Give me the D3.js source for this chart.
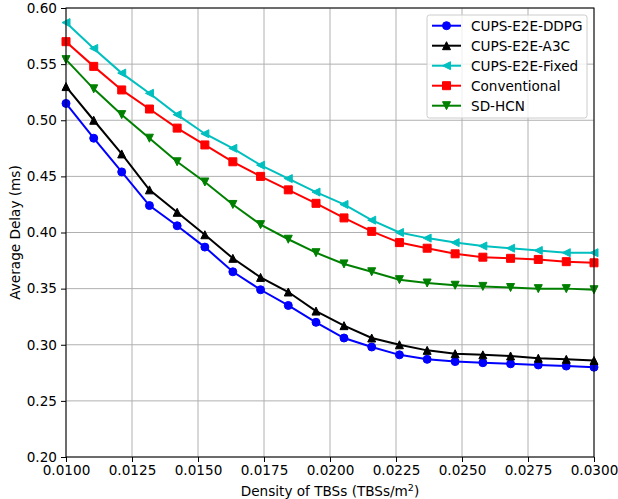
<!DOCTYPE html>
<html><head><meta charset="utf-8">
<script src="https://cdn.jsdelivr.net/npm/d3@7"></script>
<style>body{margin:0;background:#fff;} text{font-family:"DejaVu Sans",sans-serif;}</style>
</head><body>
<svg id="c" width="618" height="499"></svg>
<script>
const density = [0.0100,0.01105,0.01211,0.01316,0.01421,0.01526,0.01632,0.01737,0.01842,0.01947,0.02053,0.02158,0.02263,0.02368,0.02474,0.02579,0.02684,0.02789,0.02895,0.0300];
const ddpg  = [0.515,0.484,0.454,0.424,0.406,0.387,0.365,0.349,0.335,0.320,0.306,0.298,0.291,0.287,0.285,0.284,0.283,0.282,0.281,0.280];
const a3c   = [0.530,0.500,0.470,0.438,0.418,0.398,0.377,0.360,0.347,0.330,0.317,0.306,0.300,0.295,0.292,0.291,0.290,0.288,0.287,0.286];
const fixed = [0.587,0.564,0.542,0.524,0.505,0.488,0.475,0.460,0.448,0.436,0.425,0.411,0.400,0.395,0.391,0.388,0.386,0.384,0.382,0.382];
const conv  = [0.570,0.548,0.527,0.510,0.493,0.478,0.463,0.450,0.438,0.426,0.413,0.401,0.391,0.386,0.381,0.378,0.377,0.376,0.374,0.373];
const sdhcn = [0.554,0.528,0.505,0.484,0.463,0.445,0.425,0.407,0.394,0.382,0.372,0.365,0.358,0.355,0.353,0.352,0.351,0.350,0.350,0.349];
const seriesNames = ["CUPS-E2E-DDPG","CUPS-E2E-A3C","CUPS-E2E-Fixed","Conventional","SD-HCN"];
const xTicks = [0.0100,0.0125,0.0150,0.0175,0.0200,0.0225,0.0250,0.0275,0.0300];
const yTicks = [0.20,0.25,0.30,0.35,0.40,0.45,0.50,0.55,0.60];

const series = [
  {name:seriesNames[0], values:ddpg,  color:"#0000ff", marker:"circle"},
  {name:seriesNames[1], values:a3c,   color:"#000000", marker:"up"},
  {name:seriesNames[2], values:fixed, color:"#00bfbf", marker:"left"},
  {name:seriesNames[3], values:conv,  color:"#ff0000", marker:"square"},
  {name:seriesNames[4], values:sdhcn, color:"#008000", marker:"down"}
];

const FS = 13.6;
const L=66, R=594, T=8, B=457;
const svg = d3.select("#c");
const x = d3.scaleLinear().domain([0.01,0.03]).range([L,R]);
const y = d3.scaleLinear().domain([0.2,0.6]).range([B,T]);

// grid
const g = svg.append("g");
g.selectAll(".vx").data(xTicks).join("line")
  .attr("x1",d=>x(d)).attr("x2",d=>x(d)).attr("y1",T).attr("y2",B)
  .attr("stroke","#b0b0b0").attr("stroke-width",1);
g.selectAll(".hy").data(yTicks).join("line")
  .attr("y1",d=>y(d)).attr("y2",d=>y(d)).attr("x1",L).attr("x2",R)
  .attr("stroke","#b0b0b0").attr("stroke-width",1);

const S=8;
function markerPath(type){
  const h=S/2;
  if(type==="up") return `M0,${-h}L${-h},${h}L${h},${h}Z`;
  if(type==="down") return `M0,${h}L${-h},${-h}L${h},${-h}Z`;
  if(type==="left") return `M${-h},0L${h},${-h}L${h},${h}Z`;
  if(type==="square") return `M${-h},${-h}H${h}V${h}H${-h}Z`;
  return d3.symbol(d3.symbolCircle, Math.PI*h*h)();
}

const plot = svg.append("g");
const line = d3.line().x((d,i)=>x(density[i])).y(d=>y(d));
series.forEach(s=>{
  plot.append("path").attr("d",line(s.values)).attr("fill","none")
    .attr("stroke",s.color).attr("stroke-width",2);
  plot.selectAll(null).data(s.values).join("path")
    .attr("transform",(d,i)=>`translate(${x(density[i])},${y(d)})`)
    .attr("d",markerPath(s.marker)).attr("fill",s.color)
    .attr("stroke",s.color).attr("stroke-width",1);
});

// axes
const xa = svg.append("g").attr("transform",`translate(0,${B})`)
  .call(d3.axisBottom(x).tickValues(xTicks).tickFormat(d3.format(".4f")).tickSize(5).tickPadding(3));
const ya = svg.append("g").attr("transform",`translate(${L},0)`)
  .call(d3.axisLeft(y).tickValues(yTicks).tickFormat(d3.format(".2f")).tickSize(5).tickPadding(4));
[xa,ya].forEach(a=>{
  a.select(".domain").remove();
  a.selectAll("text").attr("font-size",FS).attr("fill","#000").attr("font-family","DejaVu Sans");
  a.selectAll("line").attr("stroke","#000").attr("stroke-width",1);
});
svg.append("rect").attr("x",L).attr("y",T).attr("width",R-L).attr("height",B-T)
  .attr("fill","none").attr("stroke","#000").attr("stroke-width",1);

// titles
const xt = svg.append("text").attr("x",(L+R)/2).attr("y",496).attr("text-anchor","middle")
  .attr("font-size",FS);
xt.append("tspan").text("Density of TBSs (TBSs/m");
xt.append("tspan").attr("font-size",9.5).attr("dy",-5).text("2");
xt.append("tspan").attr("dy",5).text(")");
svg.append("text").attr("transform",`translate(19.5,${(T+B)/2}) rotate(-90)`)
  .attr("text-anchor","middle").attr("font-size",FS).text("Average Delay (ms)");

// legend
const lg = svg.append("g");
lg.append("rect").attr("x",427).attr("y",15).attr("width",160).attr("height",103)
  .attr("rx",2.5).attr("fill","#fff").attr("fill-opacity",0.8).attr("stroke","#cccccc").attr("stroke-width",1);
series.forEach((s,i)=>{
  const yy = 25.7 + i*20;
  lg.append("line").attr("x1",432).attr("x2",461).attr("y1",yy).attr("y2",yy)
    .attr("stroke",s.color).attr("stroke-width",2);
  lg.append("path").attr("transform",`translate(446.5,${yy})`).attr("d",markerPath(s.marker))
    .attr("fill",s.color).attr("stroke",s.color).attr("stroke-width",1);
  lg.append("text").attr("x",471).attr("y",yy+4.8).attr("font-size",FS).text(s.name);
});
</script>
</body></html>
